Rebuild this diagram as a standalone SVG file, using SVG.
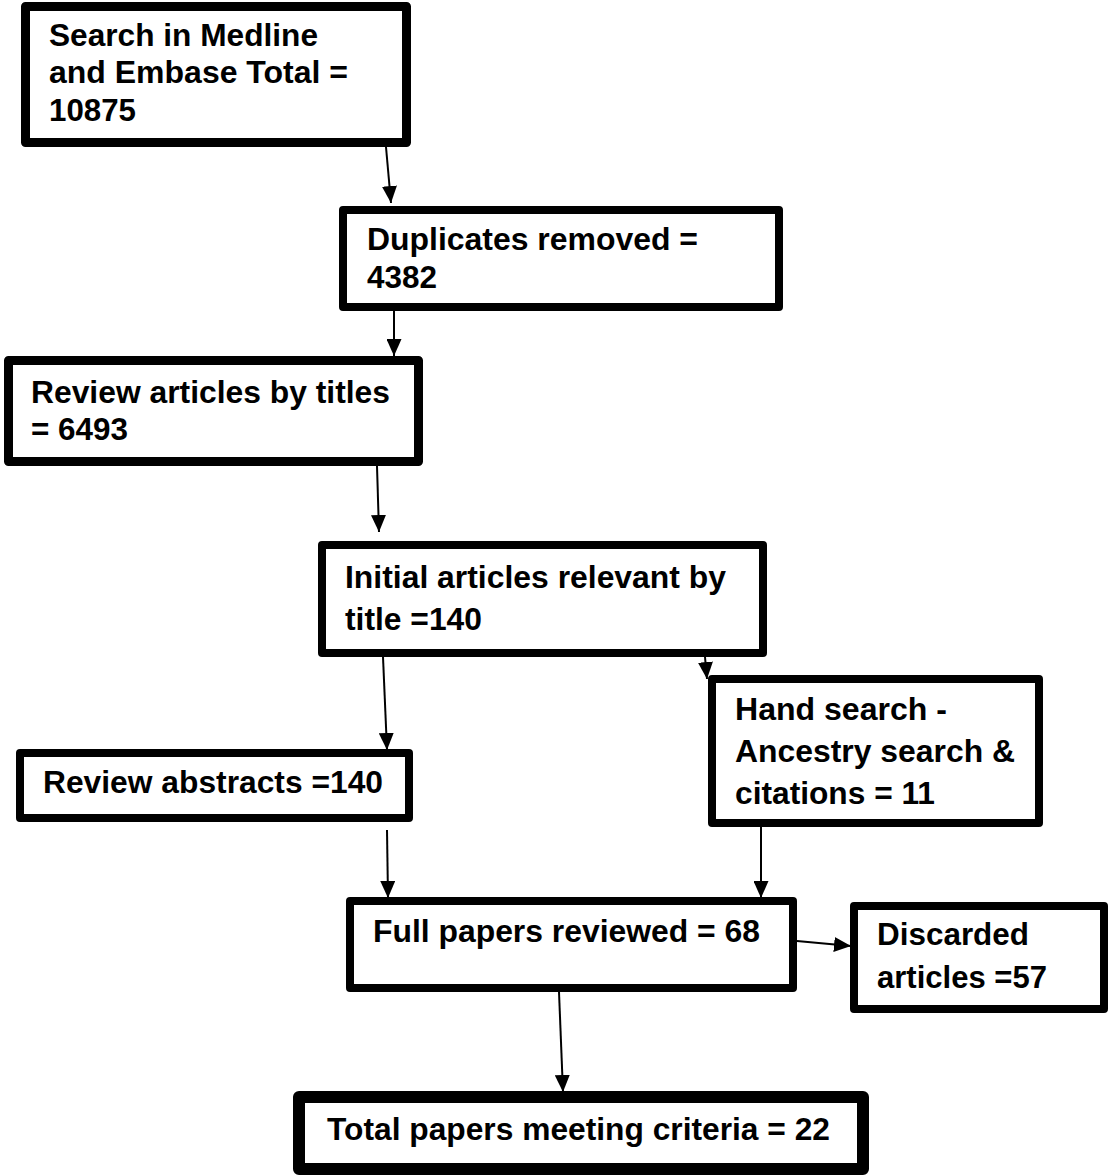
<svg xmlns="http://www.w3.org/2000/svg" width="1109" height="1176" viewBox="0 0 1109 1176">
  <style>
    .box { fill: #ffffff; stroke: #000000; stroke-linejoin: round; }
    .lbl { font-family: "Liberation Sans", Arial, Helvetica, sans-serif; font-weight: bold; font-size: 31px; fill: #000000; }
    .edge { fill: none; stroke: #000000; stroke-width: 2; marker-end: url(#arrow); }
  </style>
  <defs>
    <marker id="arrow" markerUnits="userSpaceOnUse" markerWidth="17" markerHeight="15" refX="17" refY="7.5" orient="auto">
      <path d="M0,0 L17,7.5 L0,15 Z" fill="#000000"/>
    </marker>
  </defs>
  <rect width="1109" height="1176" fill="#ffffff"/>

  <!-- connectors -->
  <g id="connectors">
    <line class="edge" x1="386" y1="147" x2="391" y2="203"/>
    <line class="edge" x1="394" y1="311" x2="394" y2="356"/>
    <line class="edge" x1="377" y1="466" x2="379" y2="532"/>
    <line class="edge" x1="383" y1="657" x2="387" y2="750"/>
    <line class="edge" x1="705" y1="657" x2="707" y2="679"/>
    <line class="edge" x1="387" y1="830" x2="388" y2="898"/>
    <line class="edge" x1="761" y1="827" x2="761" y2="898"/>
    <line class="edge" x1="797" y1="941" x2="851" y2="946"/>
    <line class="edge" x1="559" y1="992" x2="563" y2="1092"/>
  </g>

  <!-- search -->
  <g id="search">
    <rect class="box" x="25.5" y="6.5" width="381" height="136" stroke-width="9"/>
    <text class="lbl" x="49" y="46" textLength="269" lengthAdjust="spacingAndGlyphs">Search in Medline</text>
    <text class="lbl" x="49" y="83" textLength="299" lengthAdjust="spacingAndGlyphs">and Embase Total =</text>
    <text class="lbl" x="49" y="121" textLength="87" lengthAdjust="spacingAndGlyphs">10875</text>
  </g>

  <!-- duplicates -->
  <g id="duplicates">
    <rect class="box" x="343" y="210" width="436" height="97" stroke-width="8"/>
    <text class="lbl" x="367" y="250" textLength="331" lengthAdjust="spacingAndGlyphs">Duplicates removed =</text>
    <text class="lbl" x="367" y="288" textLength="70" lengthAdjust="spacingAndGlyphs">4382</text>
  </g>

  <!-- review by titles -->
  <g id="review-titles">
    <rect class="box" x="8.5" y="360.5" width="410" height="101" stroke-width="9"/>
    <text class="lbl" x="31" y="403" textLength="359" lengthAdjust="spacingAndGlyphs">Review articles by titles</text>
    <text class="lbl" x="31" y="440" textLength="97" lengthAdjust="spacingAndGlyphs">= 6493</text>
  </g>

  <!-- relevant by title -->
  <g id="initial-relevant">
    <rect class="box" x="322" y="545" width="441" height="108" stroke-width="8"/>
    <text class="lbl" x="345" y="588" textLength="381" lengthAdjust="spacingAndGlyphs">Initial articles relevant by</text>
    <text class="lbl" x="345" y="630" textLength="137" lengthAdjust="spacingAndGlyphs">title =140</text>
  </g>

  <!-- abstracts -->
  <g id="review-abstracts">
    <rect class="box" x="20" y="753" width="389" height="65" stroke-width="8"/>
    <text class="lbl" x="43" y="793" textLength="340" lengthAdjust="spacingAndGlyphs">Review abstracts =140</text>
  </g>

  <!-- hand search -->
  <g id="hand-search">
    <rect class="box" x="712" y="679" width="327" height="144" stroke-width="8"/>
    <text class="lbl" x="735" y="720" textLength="212" lengthAdjust="spacingAndGlyphs">Hand search -</text>
    <text class="lbl" x="735" y="762" textLength="280" lengthAdjust="spacingAndGlyphs">Ancestry search &amp;</text>
    <text class="lbl" x="735" y="804" textLength="200" lengthAdjust="spacingAndGlyphs">citations = 11</text>
  </g>

  <!-- full papers -->
  <g id="full-papers">
    <rect class="box" x="350" y="901" width="443" height="87" stroke-width="8"/>
    <text class="lbl" x="373" y="942" textLength="387" lengthAdjust="spacingAndGlyphs">Full papers reviewed = 68</text>
  </g>

  <!-- discarded -->
  <g id="discarded">
    <rect class="box" x="854" y="906" width="250" height="103" stroke-width="8"/>
    <text class="lbl" x="877" y="945" textLength="152" lengthAdjust="spacingAndGlyphs">Discarded</text>
    <text class="lbl" x="877" y="988" textLength="170" lengthAdjust="spacingAndGlyphs">articles =57</text>
  </g>

  <!-- final count -->
  <g id="total">
    <rect class="box" x="299" y="1097" width="564" height="72" stroke-width="12"/>
    <text class="lbl" x="327" y="1140" textLength="503" lengthAdjust="spacingAndGlyphs">Total papers meeting criteria = 22</text>
  </g>
</svg>
